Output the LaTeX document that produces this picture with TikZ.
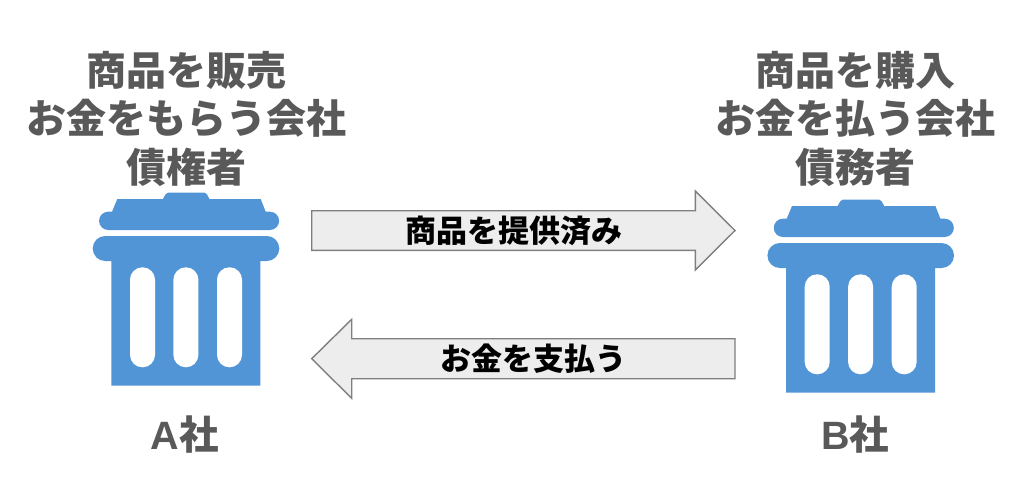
\documentclass[tikz,border=0pt]{standalone}
\usepackage{fontspec}
\newfontfamily\cjk{Noto Sans CJK JP}
\newfontfamily\lat{Liberation Sans}
\definecolor{canblue}{HTML}{5295D6}
\definecolor{headgray}{HTML}{595959}
\definecolor{arrowfill}{HTML}{EDEDED}
\definecolor{arrowline}{HTML}{7F7F7F}
\tikzset{
  x=1pt,y=-1pt,
  heading/.style={align=center,text=headgray,font=\cjk\bfseries\fontsize{40}{48.5}\selectfont,inner sep=0pt},
  company/.style={text=headgray,inner sep=0pt,font=\bfseries\fontsize{39.5}{48}\selectfont},
  flowlabel/.style={text=black,inner sep=0pt,font=\cjk\bfseries\fontsize{31}{36}\selectfont},
  blockarrow/.style={draw=arrowline,fill=arrowfill,line width=1.4pt,line join=miter},
  slot/.style={fill=white,rounded corners=12.4pt},
  pics/trashcan/.style={code={
    \fill[canblue] (117.3,199) -- (161.7,199) to[out=-70,in=180] (168,192.7) -- (204.5,192.7) to[out=0,in=-110] (210.7,199) -- (260.7,199) -- (265.7,211.7) -- (270,211.7)
      arc[start angle=-90,end angle=90,radius=9.15] -- (108.2,230) arc[start angle=90,end angle=270,radius=9.15] -- (112,211.7) -- cycle;
    \fill[canblue] (105.2,236) -- (266.8,236) arc[start angle=-90,end angle=90,radius=12.5] -- (260.3,261) -- (260.3,385.7) -- (111.3,385.7) -- (111.3,261) -- (105.2,261) arc[start angle=90,end angle=270,radius=12.5] -- cycle;
    \fill[slot] (130,267.3) rectangle (155,367.3);
    \fill[slot] (173.4,267.3) rectangle (198.4,367.3);
    \fill[slot] (217,267.3) rectangle (242,367.3);
  }}
}
\begin{document}
\begin{tikzpicture}
\useasboundingbox (0,0) rectangle (1024,484);
\pic at (0,0) {trashcan};
\pic at (674.7,7) {trashcan};
\node[heading] (seller) at (186,118.5) {商品を販売\\お金をもらう会社\\債権者};
\node[heading] (buyer) at (855,118.5) {商品を購入\\お金を払う会社\\債務者};
\node[company] (coA) at (185,435) {{\lat A}{\cjk 社}};
\node[company] (coB) at (855,435) {{\lat B}{\cjk 社}};
\draw[blockarrow] (311.7,210.7) -- (695.3,210.7) -- (695.3,191) -- (735,230.5) -- (695.3,270) -- (695.3,250.3) -- (311.7,250.3) -- cycle;
\draw[blockarrow] (735,338.7) -- (351.7,338.7) -- (351.7,319.3) -- (311.7,358.7) -- (351.7,398.3) -- (351.7,378.7) -- (735,378.7) -- cycle;
\node[flowlabel] (provided) at (513.5,231) {商品を提供済み};
\node[flowlabel] (paying) at (533,358.7) {お金を支払う};
\end{tikzpicture}
\end{document}
